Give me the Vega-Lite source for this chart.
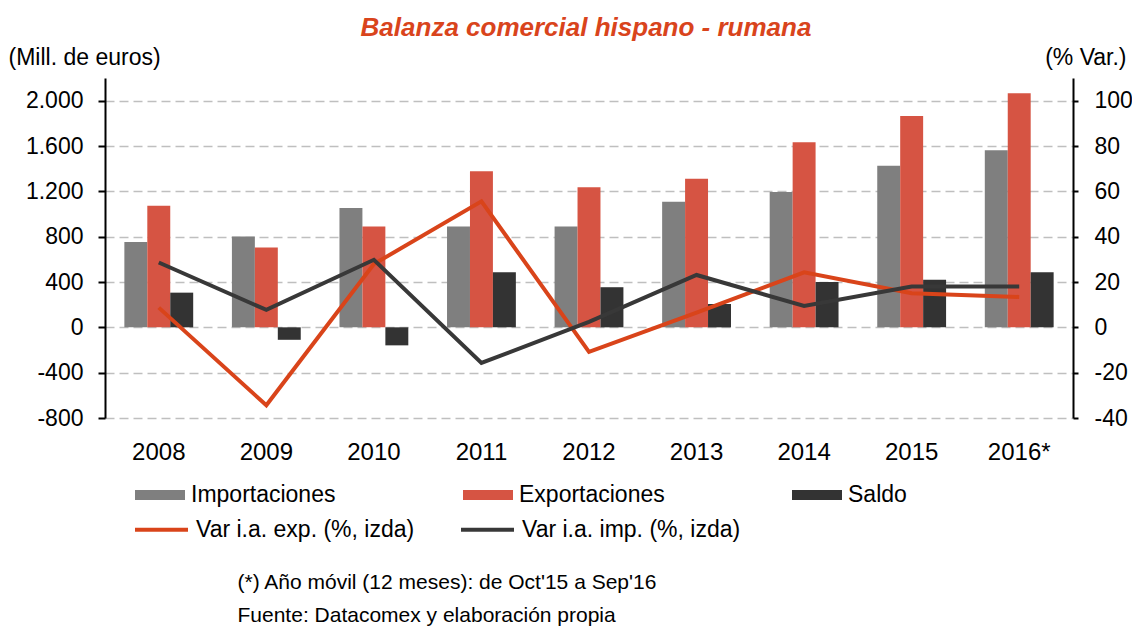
{
  "$schema": "https://vega.github.io/schema/vega-lite/v6.json",
  "autosize": {"type": "none"},
  "width": 968,
  "height": 340,
  "padding": {"left": 105, "top": 78, "right": 59, "bottom": 208},
  "background": "white",
  "config": {
    "font": "Liberation Sans",
    "view": {"stroke": null},
    "axis": {"labelFont": "Liberation Sans", "titleFont": "Liberation Sans", "labelColor": "black", "titleColor": "black"},
    "legend": {"labelFont": "Liberation Sans", "labelColor": "black", "padding": 0}
  },
  "title": {
    "text": "Balanza comercial hispano - rumana",
    "font": "Liberation Sans",
    "fontSize": 26,
    "fontStyle": "italic",
    "fontWeight": "bold",
    "color": "#D9441C",
    "anchor": "middle",
    "frame": "group",
    "dx": -3,
    "offset": 5
  },
  "datasets": {
    "bars": [
      {"year": "2008", "serie": "Importaciones", "value": 752},
      {"year": "2008", "serie": "Exportaciones", "value": 1073},
      {"year": "2008", "serie": "Saldo", "value": 306},
      {"year": "2009", "serie": "Importaciones", "value": 802},
      {"year": "2009", "serie": "Exportaciones", "value": 705},
      {"year": "2009", "serie": "Saldo", "value": -110},
      {"year": "2010", "serie": "Importaciones", "value": 1053},
      {"year": "2010", "serie": "Exportaciones", "value": 890},
      {"year": "2010", "serie": "Saldo", "value": -159},
      {"year": "2011", "serie": "Importaciones", "value": 890},
      {"year": "2011", "serie": "Exportaciones", "value": 1377},
      {"year": "2011", "serie": "Saldo", "value": 487},
      {"year": "2012", "serie": "Importaciones", "value": 890},
      {"year": "2012", "serie": "Exportaciones", "value": 1235},
      {"year": "2012", "serie": "Saldo", "value": 354},
      {"year": "2013", "serie": "Importaciones", "value": 1109},
      {"year": "2013", "serie": "Exportaciones", "value": 1310},
      {"year": "2013", "serie": "Saldo", "value": 206},
      {"year": "2014", "serie": "Importaciones", "value": 1195},
      {"year": "2014", "serie": "Exportaciones", "value": 1634},
      {"year": "2014", "serie": "Saldo", "value": 401},
      {"year": "2015", "serie": "Importaciones", "value": 1425},
      {"year": "2015", "serie": "Exportaciones", "value": 1864},
      {"year": "2015", "serie": "Saldo", "value": 419},
      {"year": "2016*", "serie": "Importaciones", "value": 1563},
      {"year": "2016*", "serie": "Exportaciones", "value": 2065},
      {"year": "2016*", "serie": "Saldo", "value": 487}
    ],
    "lines": [
      {"year": "2008", "serie": "Var i.a. exp. (%, izda)", "value": 8.7},
      {"year": "2009", "serie": "Var i.a. exp. (%, izda)", "value": -34.4},
      {"year": "2010", "serie": "Var i.a. exp. (%, izda)", "value": 27.9},
      {"year": "2011", "serie": "Var i.a. exp. (%, izda)", "value": 55.6},
      {"year": "2012", "serie": "Var i.a. exp. (%, izda)", "value": -10.8},
      {"year": "2013", "serie": "Var i.a. exp. (%, izda)", "value": 6.5},
      {"year": "2014", "serie": "Var i.a. exp. (%, izda)", "value": 24.3},
      {"year": "2015", "serie": "Var i.a. exp. (%, izda)", "value": 15},
      {"year": "2016*", "serie": "Var i.a. exp. (%, izda)", "value": 13.4},
      {"year": "2008", "serie": "Var i.a. imp. (%, izda)", "value": 28.6},
      {"year": "2009", "serie": "Var i.a. imp. (%, izda)", "value": 7.7},
      {"year": "2010", "serie": "Var i.a. imp. (%, izda)", "value": 29.8},
      {"year": "2011", "serie": "Var i.a. imp. (%, izda)", "value": -15.7},
      {"year": "2012", "serie": "Var i.a. imp. (%, izda)", "value": 2.4},
      {"year": "2013", "serie": "Var i.a. imp. (%, izda)", "value": 23.1},
      {"year": "2014", "serie": "Var i.a. imp. (%, izda)", "value": 9.4},
      {"year": "2015", "serie": "Var i.a. imp. (%, izda)", "value": 18},
      {"year": "2016*", "serie": "Var i.a. imp. (%, izda)", "value": 18}
    ]
  },
  "encoding": {
    "x": {
      "field": "year",
      "type": "nominal",
      "scale": {"domain": ["2008", "2009", "2010", "2011", "2012", "2013", "2014", "2015", "2016*"], "paddingInner": 0.36, "paddingOuter": 0.18},
      "axis": {
        "orient": "bottom",
        "domain": false,
        "ticks": false,
        "labelAngle": 0,
        "labelFontSize": 24,
        "labelPadding": 22,
        "title": ["(*) Año móvil (12 meses): de Oct'15 a Sep'16", "Fuente: Datacomex y elaboración propia"],
        "titleFontSize": 21,
        "titleFontWeight": "normal",
        "titleAlign": "left",
        "titleAnchor": "start",
        "titleBaseline": "alphabetic",
        "titleX": 132,
        "titleY": 170,
        "titleLineHeight": 33
      }
    }
  },
  "layer": [
    {
      "layer": [
        {
          "data": {"name": "bars"},
          "mark": {"type": "bar", "strokeWidth": 0},
          "encoding": {
            "xOffset": {"field": "serie", "type": "nominal", "scale": {"domain": ["Importaciones", "Exportaciones", "Saldo"], "paddingInner": 0, "paddingOuter": 0}},
            "y": {
              "field": "value",
              "type": "quantitative",
              "scale": {"domain": [-800, 2200], "nice": false, "zero": false},
              "axis": {
                "orient": "left",
                "values": [-800, -400, 0, 400, 800, 1200, 1600, 2000],
                "labelExpr": "(datum.value < 0 ? '-' : '') + replace(format(abs(datum.value), ','), ',', '.')",
                "labelFontSize": 23,
                "labelPadding": 15,
                "tickSize": 7,
                "tickWidth": 2,
                "tickColor": "black",
                "domainColor": "black",
                "domainWidth": 2,
                "grid": true,
                "gridColor": "#BFBFBF",
                "gridDash": [9, 5],
                "gridWidth": 1.5,
                "title": "(Mill. de euros)",
                "titleAngle": 0,
                "titleFontSize": 23,
                "titleFontWeight": "normal",
                "titleAlign": "left",
                "titleBaseline": "alphabetic",
                "titleX": -97,
                "titleY": -14
              }
            },
            "fill": {
              "field": "serie",
              "type": "nominal",
              "scale": {"domain": ["Importaciones", "Exportaciones", "Saldo"], "range": ["#7F7F7F", "#D65443", "#333333"]},
              "legend": {
                "title": null,
                "orient": "none",
                "legendX": 30,
                "legendY": 392,
                "direction": "horizontal",
                "columns": 3,
                "columnPadding": 127,
                "symbolType": "M-1,-0.2H1V0.2H-1Z",
                "symbolSize": 2500,
                "symbolStrokeWidth": 0,
                "labelFontSize": 23,
                "labelOffset": 6,
                "labelLimit": 300
              }
            }
          }
        },
        {
          "data": {"values": [{}]},
          "mark": {"type": "rule", "color": "black", "strokeWidth": 2},
          "encoding": {"y": {"datum": 0}}
        }
      ]
    },
    {
      "data": {"name": "lines"},
      "mark": {"type": "line", "strokeWidth": 4},
      "encoding": {
        "y": {
          "field": "value",
          "type": "quantitative",
          "scale": {"domain": [-40, 110], "nice": false, "zero": false},
          "axis": {
            "orient": "right",
            "values": [-40, -20, 0, 20, 40, 60, 80, 100],
            "labelExpr": "(datum.value < 0 ? '-' : '') + abs(datum.value)",
            "labelFontSize": 23,
            "labelPadding": 16,
            "tickSize": 5,
            "tickWidth": 2,
            "tickColor": "black",
            "domainColor": "black",
            "domainWidth": 2,
            "grid": false,
            "title": "(% Var.)",
            "titleAngle": 0,
            "titleFontSize": 23,
            "titleFontWeight": "normal",
            "titleAlign": "right",
            "titleBaseline": "alphabetic",
            "titleX": 53,
            "titleY": -14
          }
        },
        "stroke": {
          "field": "serie",
          "type": "nominal",
          "scale": {"domain": ["Var i.a. exp. (%, izda)", "Var i.a. imp. (%, izda)"], "range": ["#D9441A", "#383838"]},
          "legend": {
            "title": null,
            "orient": "none",
            "legendX": 28,
            "legendY": 423,
            "direction": "horizontal",
            "columns": 2,
            "columnPadding": 38,
            "symbolType": "stroke",
            "symbolSize": 2809,
            "symbolStrokeWidth": 4,
            "labelFontSize": 23,
            "labelOffset": 6,
            "labelLimit": 300
          }
        }
      }
    }
  ],
  "resolve": {"scale": {"y": "independent"}}
}
